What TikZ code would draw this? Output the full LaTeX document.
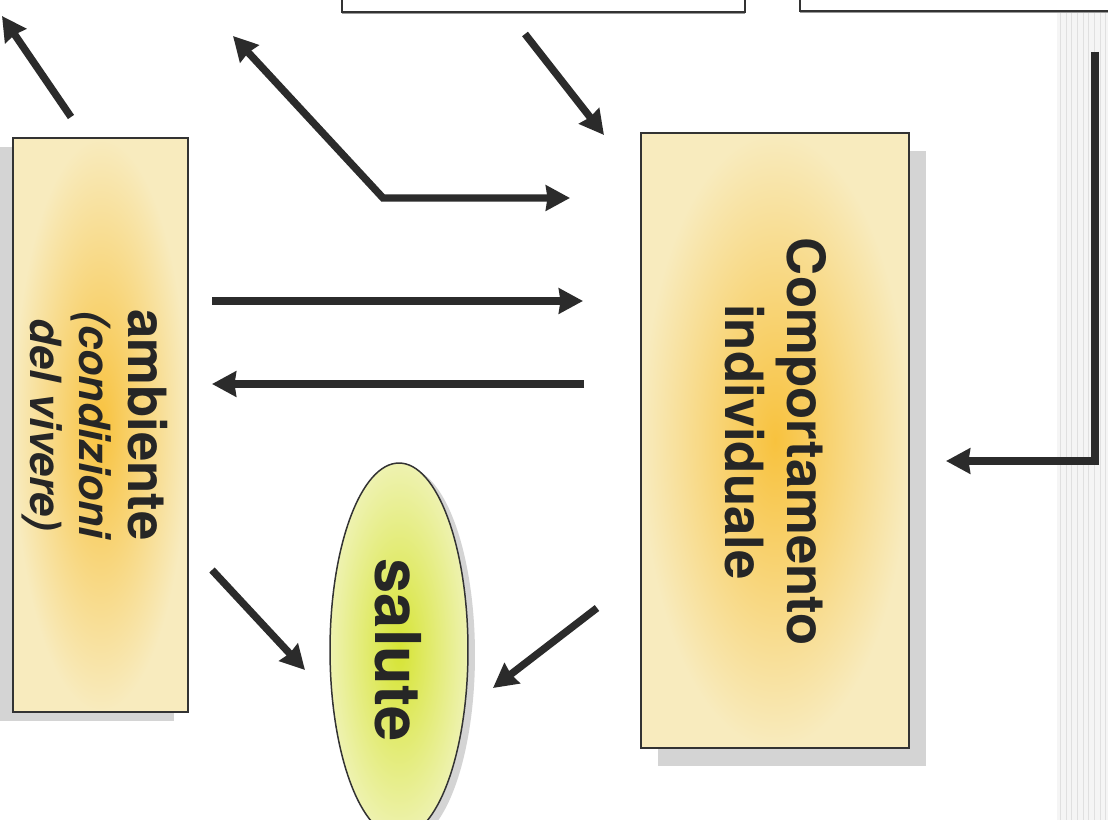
\documentclass[tikz,border=0pt]{standalone}
\usepackage{fontspec}
\setmainfont{TeX Gyre Heros}
\usetikzlibrary{arrows.meta,shapes.geometric,shadows}
\definecolor{boxline}{HTML}{333333}
\definecolor{arrowc}{HTML}{2B2B2B}
\definecolor{paleyellow}{HTML}{F8EBBE}
\definecolor{deepyellow}{HTML}{F8C23E}
\definecolor{palegreen}{HTML}{EEF2B0}
\definecolor{deepgreen}{HTML}{D6E434}
\definecolor{shadowc}{HTML}{D4D4D4}
\tikzset{
  boxbase/.style={rectangle, draw=boxline, line width=0.85pt, inner sep=0pt, outer sep=0pt},
  yellowbox/.style={boxbase, inner color=deepyellow, outer color=paleyellow},
  whitebox/.style={boxbase, fill=white},
  greenoval/.style={ellipse, draw=boxline, line width=0.85pt, inner sep=0pt, outer sep=0pt, inner color=deepgreen, outer color=palegreen},
  label/.style={rotate=-90, align=center, text=black!85, inner sep=0pt},
  fatarrow/.style={draw=arrowc, line width=4.2pt, line join=miter,
    -{Stealth[length=0.48cm,width=0.5cm,inset=0.03cm]}},
  fatarrows/.style={draw=arrowc, line width=4.2pt, line join=miter,
    {Stealth[length=0.48cm,width=0.5cm,inset=0.03cm]}-{Stealth[length=0.48cm,width=0.5cm,inset=0.03cm]}},
}
\begin{document}
\begin{tikzpicture}[x=0.02cm,y=-0.02cm]
\useasboundingbox (0,0) rectangle (1108,820);
\clip (0,0) rectangle (1108,820);
\fill[white] (0,0) rectangle (1108,820);
% right strip
\fill[black!4] (1057,12) rectangle (1108,820);
\foreach \xx in {1060,1066,1071,1077,1083,1088,1094,1100,1105}
  \draw[black!12, line width=0.3pt] (\xx,12) -- (\xx,820);
% top boxes (cut by the top edge)
\node[whitebox, minimum width=8.06cm, minimum height=3cm,
  drop shadow={shadow xshift=0pt, shadow yshift=-1pt, fill=black!40, opacity=1}] (boxA) at (543.5,-63) {};
\node[whitebox, minimum width=7.4cm, minimum height=3cm,
  drop shadow={shadow xshift=0pt, shadow yshift=-1pt, fill=black!40, opacity=1}] (boxB) at (985,-64) {};
% main boxes
\node[yellowbox, minimum width=3.5cm, minimum height=11.48cm,
  drop shadow={shadow xshift=-0.28cm, shadow yshift=-0.18cm, fill=shadowc, opacity=1}] (amb) at (100.5,425) {};
\node[yellowbox, minimum width=5.36cm, minimum height=12.3cm,
  drop shadow={shadow xshift=0.34cm, shadow yshift=-0.36cm, fill=shadowc, opacity=1}] (comp) at (775,440.5) {};
\node[greenoval, minimum width=2.76cm, minimum height=7.48cm,
  drop shadow={shadow xshift=0.14cm, shadow yshift=-0.1cm, fill=shadowc, opacity=1}] (sal) at (399,650) {};
% texts
\node[label, font=\fontsize{30}{28}\selectfont\bfseries] (ambT) at (95,425)
  {ambiente\\{\fontsize{24.5}{28}\selectfont\itshape (condizioni}\\{\fontsize{24.5}{28}\selectfont\itshape del vivere)}};
\node[label, font=\fontsize{30}{35}\selectfont\bfseries] (compT) at (776,442)
  {Comportamento\\individuale};
\node[label, font=\fontsize{36}{40}\selectfont\bfseries] (salT) at (398,650) {salute};
% arrow end points
\coordinate (p1a) at (71,117);
\coordinate (p1b) at (2,16);
\coordinate (p2a) at (233,36);
\coordinate (p2b) at (383,198);
\coordinate (p2c) at (570,198);
\coordinate (p3a) at (525,34);
\coordinate (p3b) at (604,135);
\coordinate (p4a) at (212,301);
\coordinate (p4b) at (583,301);
\coordinate (p5a) at (584,384);
\coordinate (p5b) at (212,384);
\coordinate (p6a) at (212,570);
\coordinate (p6b) at (305,670);
\coordinate (p7a) at (597,608);
\coordinate (p7b) at (493,688);
\coordinate (p8a) at (1095,52);
\coordinate (p8b) at (946,461);
% arrows
\draw[fatarrow] (p1a) -- (p1b);
\draw[fatarrows] (p2a) -- (p2b) -- (p2c);
\draw[fatarrow] (p3a) -- (p3b);
\draw[fatarrow] (p4a) -- (p4b);
\draw[fatarrow] (p5a) -- (p5b);
\draw[fatarrow] (p6a) -- (p6b);
\draw[fatarrow] (p7a) -- (p7b);
\draw[fatarrow] (p8a) |- (p8b);
\end{tikzpicture}
\end{document}
